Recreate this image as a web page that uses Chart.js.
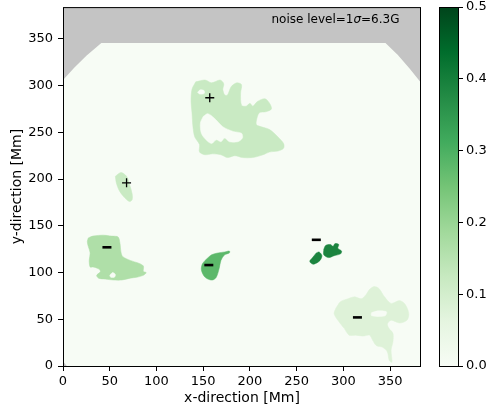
<!DOCTYPE html>
<html>
<head>
<meta charset="utf-8">
<script src="https://cdn.jsdelivr.net/npm/chart.js@4.4.1/dist/chart.umd.min.js"></script>
<style>
body { margin:0; background:#fff; }
#wrap { position:relative; width:486px; height:410px; }
#mainChart { position:absolute; left:0; top:0; }
#cbarChart { position:absolute; left:420px; top:0; }
</style>
</head>
<body>
<div id="wrap">
<canvas id="mainChart" width="486" height="410"></canvas>
<canvas id="cbarChart" width="66" height="410"></canvas>
</div>
<script>
// field of view in Mm
const xMax = 383;
const yMax = 384;
const cbarTicks = [0.0, 0.1, 0.2, 0.3, 0.4, 0.5];
const noiseLabel = ["noise level=1", "σ", "=6.3G"];

// off-disk region (top corners) and the tiny corner at the origin
const offDisk = [[0,384],[0,306],[12,319],[25,332],[41,345.5],[345,345.5],[358,333],[371,318],[383,303],[383,384]];
const offDiskCorner = [[0,0],[0,5],[4,0]];

// filled contour patches [x, y] in Mm
const topPatch = [[142,304],[152,306],[159,303],[168,306],[172,302],[171,296],[173,290],[176,290],[180,299],[186,303],[191,301],[190,292],[191,279],[196,278],[200,281],[203,278],[208,283],[216,286],[221,281],[223,275],[217,272],[210,271],[207,263],[207,258],[212,256],[221,253],[230,245],[236,238],[236,233],[230,230],[221,229],[214,226],[203,223],[192,223],[184,225],[176,223],[169,226],[160,227],[152,226],[146,229],[146,237],[141,245],[139,256],[138,271],[137,283],[138,296]];
const topHole = [[150,267],[155,270],[162,265],[171,256],[182,251],[191,249],[192,244],[187,240],[178,240],[173,244],[169,240],[164,242],[159,238],[153,242],[148,249],[147,260]];
const topHoleSmall = [[144,293],[147,295.5],[151,294.5],[151,291.5],[146,291]];
const smallPatch = [[56,203],[62,207],[68,203],[71,195],[74,184],[74,178],[71,176],[65,181],[60,188],[57,196]];
const leftPatch = [[27,137],[32,139],[43,140],[52,139],[59,138],[61,131],[62,122],[64,117],[72,113],[81,110],[86,107],[86,101],[89,100],[86,97],[79,95],[72,94],[63,92],[54,92],[45,93],[38,94],[36,97],[40,101],[38,104],[32,106],[29,106],[28,113],[29,121],[27,128],[26,133]];
const leftHole = [[50,97],[53,100],[56,98],[55,95],[51,95]];
const midPatch = [[152,113],[159,119],[166,121],[173,122],[178,123],[178,121],[173,119],[169,113],[167,104],[164,95],[160,92],[155,93],[151,96],[148,103],[149,109]];
const darkPatchA = [[271,121],[274,122],[277,118],[275,113],[271,110],[267,109],[264,112],[267,116]];
const darkPatchB = [[279,125],[281,129],[286,130],[289,128],[291,131],[295,130],[294,126],[298,123],[297,120],[290,118],[284,116],[279,119]];
const brPatch = [[292,62],[297,69],[305,72],[312,74],[319,72],[324,76],[328,82],[333,85],[338,83],[344,74],[351,67],[360,70],[366,66],[370,56],[368,49],[360,46],[351,49],[347,45],[349,40],[353,35],[353,26],[351,17],[352,4],[349,6],[347,15],[342,20],[335,22],[331,28],[328,33],[321,32],[313,33],[306,33],[301,40],[294,49],[290,56]];
const brHole = [[330,57],[337,59],[346,58],[345,54],[338,53],[330,54]];

const patches = [topPatch, smallPatch, leftPatch, midPatch, darkPatchA, darkPatchB, brPatch];
const patchLevels = [0.12, 0.12, 0.165, 0.28, 0.39, 0.39, 0.078];
const holes = [topHole, topHoleSmall, leftHole, brHole];

// polarity markers
const plusPoints = [[157,287],[68,196]];
const minusPoints = [[47,127],[156,108],[271,135],[315,52]];

// Greens colormap, vmin 0 .. vmax 0.5
const greens = ["#f7fcf5","#e5f5e0","#c7e9c0","#a1d99b","#74c476","#41ab5d","#238b45","#006d2c","#00441b"];
const vmax = 0.5;

function hexToRgb(h){
  return [parseInt(h.substr(1,2),16), parseInt(h.substr(3,2),16), parseInt(h.substr(5,2),16)];
}
function greensColor(v){
  let t = Math.max(0, Math.min(1, v / vmax)) * (greens.length - 1);
  let i = Math.min(Math.floor(t), greens.length - 2);
  let f = t - i;
  const a = hexToRgb(greens[i]), b = hexToRgb(greens[i+1]);
  const c = a.map((q, k) => Math.round(q + (b[k] - q) * f));
  return "rgb(" + c.join(",") + ")";
}

const toXY = arr => arr.map(p => ({x: p[0], y: p[1]}));
const closed = arr => toXY(arr.concat([arr[0]]));

const bgColor = greens[0];
const datasets = [];

datasets.push({
  data: toXY(plusPoints), order: 0, showLine: false,
  pointStyle: "cross", pointRadius: 4.5, pointBorderWidth: 1.3,
  pointBorderColor: "#000", pointBackgroundColor: "#000"
});
datasets.push({
  data: toXY(minusPoints), order: 0, showLine: false,
  pointStyle: "line", pointRadius: 4.5, pointBorderWidth: 2.6,
  pointBorderColor: "#000", pointBackgroundColor: "#000"
});

holes.forEach(h => {
  datasets.push({
    data: closed(h), order: 1, showLine: true, fill: "shape", tension: 0.3,
    backgroundColor: bgColor, borderColor: bgColor, borderWidth: 0.5, pointRadius: 0
  });
});

patches.forEach((p, i) => {
  const col = greensColor(patchLevels[i]);
  datasets.push({
    data: closed(p), order: 2, showLine: true, fill: "shape", tension: 0.3,
    backgroundColor: col, borderColor: col, borderWidth: 0.5, pointRadius: 0
  });
});

[offDisk, offDiskCorner].forEach(g => {
  datasets.push({
    data: closed(g), order: 3, showLine: true, fill: "shape", tension: 0,
    backgroundColor: "#c4c4c4", borderColor: "#c4c4c4", borderWidth: 0, pointRadius: 0
  });
});

Chart.defaults.font.family = '"DejaVu Sans", sans-serif';
Chart.defaults.color = "#000";

const areaPlugin = {
  id: "area",
  beforeDraw(chart){
    const a = chart.chartArea, ctx = chart.ctx;
    ctx.save();
    ctx.fillStyle = bgColor;
    ctx.fillRect(a.left, a.top, a.right - a.left, a.bottom - a.top);
    ctx.restore();
  },
  afterDraw(chart){
    const a = chart.chartArea, ctx = chart.ctx;
    ctx.save();
    ctx.strokeStyle = "#000";
    ctx.lineWidth = 1;
    ctx.strokeRect(a.left + 0.5, a.top + 0.5, a.right - a.left - 1, a.bottom - a.top);
    // noise annotation
    const xr = chart.scales.x.getPixelForValue(360);
    const yc = chart.scales.y.getPixelForValue(370);
    const normal = '12px "DejaVu Sans"', italic = 'italic 12px "DejaVu Sans"';
    ctx.font = normal;
    const w0 = ctx.measureText(noiseLabel[0]).width;
    const w2 = ctx.measureText(noiseLabel[2]).width;
    ctx.font = italic;
    const w1 = ctx.measureText(noiseLabel[1]).width;
    let x = xr - (w0 + w1 + w2);
    ctx.fillStyle = "#000";
    ctx.textBaseline = "middle";
    ctx.font = normal; ctx.fillText(noiseLabel[0], x, yc); x += w0;
    ctx.font = italic; ctx.fillText(noiseLabel[1], x, yc); x += w1;
    ctx.font = normal; ctx.fillText(noiseLabel[2], x, yc);
    ctx.restore();
  }
};

const axisGrid = { display: true, drawOnChartArea: false, drawTicks: true, tickLength: 5, color: "#000", lineWidth: 1 };

new Chart(document.getElementById("mainChart"), {
  type: "scatter",
  data: { datasets: datasets },
  options: {
    responsive: false,
    animation: false,
    events: [],
    layout: { padding: { top: 7, right: 65, left: 0, bottom: 0 } },
    plugins: { legend: { display: false }, tooltip: { enabled: false } },
    scales: {
      x: {
        type: "linear", min: 0, max: xMax,
        ticks: { stepSize: 50, includeBounds: false, font: { size: 13 }, padding: 3, maxRotation: 0 },
        grid: axisGrid,
        border: { display: false },
        title: { display: true, text: "x-direction [Mm]", font: { size: 14 }, padding: { top: 0, bottom: 3 } },
        afterFit: s => { s.height = 44; s.paddingLeft = 0; s.paddingRight = 0; }
      },
      y: {
        type: "linear", min: 0, max: yMax,
        ticks: { stepSize: 50, includeBounds: false, font: { size: 13 }, padding: 5 },
        grid: axisGrid,
        border: { display: false },
        title: { display: true, text: "y-direction [Mm]", font: { size: 14 }, padding: { top: 9, bottom: 0 } },
        afterFit: s => { s.width = 63; s.paddingTop = 0; s.paddingBottom = 0; }
      }
    }
  },
  plugins: [areaPlugin]
});

// colorbar
const cbarFrame = {
  id: "cbarFrame",
  afterDraw(chart){
    const a = chart.chartArea, ctx = chart.ctx;
    ctx.save();
    ctx.strokeStyle = "#000";
    ctx.lineWidth = 1;
    ctx.strokeRect(a.left + 0.5, a.top + 0.5, a.right - a.left - 1, a.bottom - a.top);
    ctx.restore();
  }
};

new Chart(document.getElementById("cbarChart"), {
  type: "bar",
  data: {
    labels: [""],
    datasets: [{
      data: [cbarTicks[cbarTicks.length - 1]],
      barPercentage: 1, categoryPercentage: 1, borderWidth: 0,
      backgroundColor: ctx => {
        const a = ctx.chart.chartArea;
        if (!a) return greens[4];
        const g = ctx.chart.ctx.createLinearGradient(0, a.bottom, 0, a.top);
        greens.forEach((c, i) => g.addColorStop(i / (greens.length - 1), c));
        return g;
      }
    }]
  },
  options: {
    responsive: false,
    animation: false,
    events: [],
    layout: { padding: { top: 7, right: 0, left: 19, bottom: 44 } },
    plugins: { legend: { display: false }, tooltip: { enabled: false } },
    scales: {
      x: { display: false },
      y: {
        position: "right", min: 0, max: vmax,
        ticks: { stepSize: 0.1, font: { size: 13 }, padding: 3, callback: v => Number(v).toFixed(1) },
        grid: { display: true, drawOnChartArea: false, drawTicks: true, tickLength: 4, color: "#000" },
        border: { display: false },
        afterFit: s => { s.width = 27; s.paddingTop = 0; s.paddingBottom = 0; }
      }
    }
  },
  plugins: [cbarFrame]
});
</script>
</body>
</html>
